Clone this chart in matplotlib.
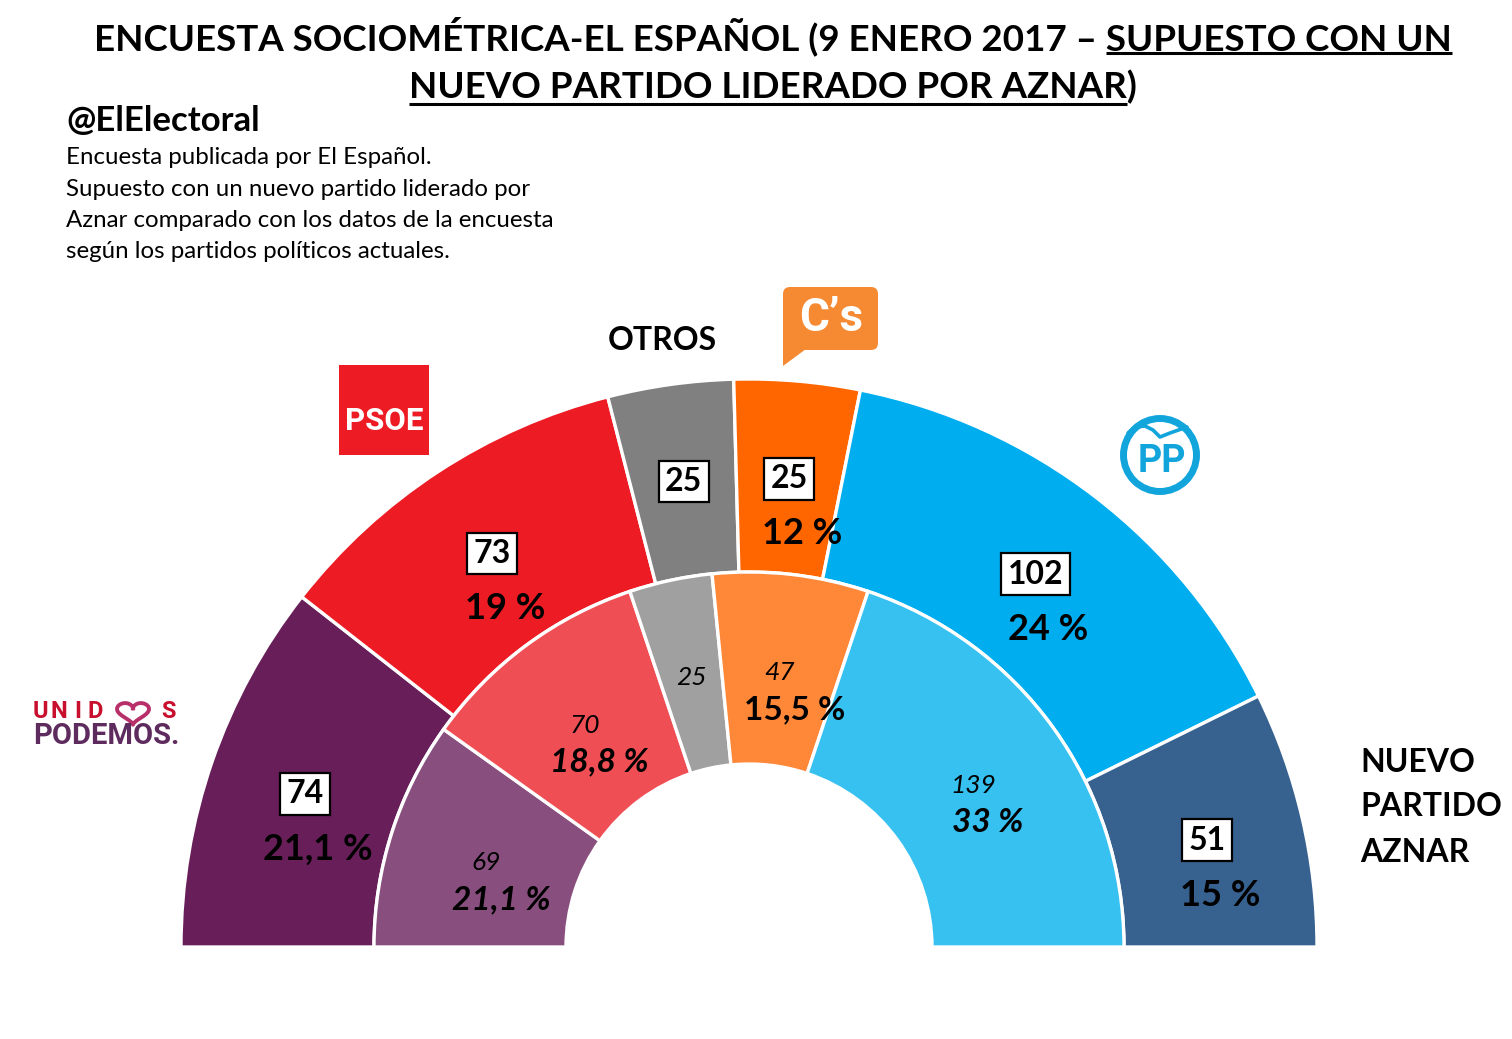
import numpy as np
import matplotlib
matplotlib.use("Agg")
import matplotlib.pyplot as plt
from matplotlib.patches import FancyBboxPatch, Polygon, Circle, Rectangle

plt.rcParams['font.family'] = ['Lato', 'DejaVu Sans']

# --- data (seats out of 350) ---
outer_parties = ["Unidos Podemos", "PSOE", "Otros", "Cs", "PP", "Nuevo partido Aznar"]
outer_seats = [74, 73, 25, 25, 102, 51]
outer_pct = ["21,1 %", "19 %", "", "12 %", "24 %", "15 %"]
outer_colors = ["#681F59", "#ED1C24", "#808080", "#FF6600", "#00AEEF", "#37618F"]

inner_parties = ["Unidos Podemos", "PSOE", "Otros", "Cs", "PP"]
inner_seats = [69, 70, 25, 47, 139]
inner_pct = ["21,1 %", "18,8 %", "", "15,5 %", "33 %"]
inner_pct_italic = [True, True, True, False, True]
inner_colors = ["#884F7E", "#F04E55", "#A0A0A0", "#FF8738", "#37C1F1"]

W, H = 1512, 1039
fig = plt.figure(figsize=(W / 100, H / 100), dpi=100)
ax = fig.add_axes([0, 0, 1, 1])

def Y(y):
    return H - y

cx, cy = 749, Y(947)
R_out, R_mid, R_in = 568, 375, 183

# half donut: add a hidden slice equal to the total for the lower half
w_out, _ = ax.pie(outer_seats + [sum(outer_seats)], colors=outer_colors + ["white"],
                  radius=R_out, center=(cx, cy), startangle=180, counterclock=False,
                  frame=True,
                  wedgeprops=dict(width=R_out - R_mid, edgecolor="white", linewidth=2.4))
w_in, _ = ax.pie(inner_seats + [sum(inner_seats)], colors=inner_colors + ["white"],
                 radius=R_mid, center=(cx, cy), startangle=180, counterclock=False,
                 frame=True,
                 wedgeprops=dict(width=R_mid - R_in, edgecolor="white", linewidth=2.4))
w_out[-1].set_visible(False)
w_in[-1].set_visible(False)

ax.set_xlim(0, W)
ax.set_ylim(0, H)
ax.set_aspect("equal")
ax.axis("off")

def mid_point(w, r):
    a = np.deg2rad((w.theta1 + w.theta2) / 2)
    return cx + r * np.cos(a), cy + r * np.sin(a)

# outer labels: seat box + percentage
for w, s, p in zip(w_out[:-1], outer_seats, outer_pct):
    x, y = mid_point(w, 470)
    ax.text(x, y, str(s), ha="center", va="center", fontsize=23, fontweight="bold",
            bbox=dict(boxstyle="square,pad=0.2", fc="white", ec="black", lw=1.6))
    if p:
        ax.text(x + 13, y - 55, p, ha="center", va="center", fontsize=26,
                fontweight="bold")

# inner labels
for w, s, p, it in zip(w_in[:-1], inner_seats, inner_pct, inner_pct_italic):
    x, y = mid_point(w, 276)
    ax.text(x, y, str(s), ha="center", va="center", fontsize=19, style="italic")
    if p:
        ax.text(x + 15, y - 37, p, ha="center", va="center", fontsize=24,
                fontweight="bold", style="italic" if it else "normal")

# --- title with partial underline ---
title1a = "ENCUESTA SOCIOMÉTRICA-EL ESPAÑOL (9 ENERO 2017 – "
title1b = "SUPUESTO CON UN"
title2a = "NUEVO PARTIDO LIDERADO POR AZNAR"
title2b = ")"
tfs = 26.5
t1 = ax.text(773, Y(36), title1a + title1b, ha="center", va="center", fontsize=tfs, fontweight="bold")
t2 = ax.text(773, Y(87), title2a + title2b, ha="center", va="center", fontsize=tfs, fontweight="bold")
fig.canvas.draw()
rend = fig.canvas.get_renderer()

def underline(t, prefix, part, y_line):
    bb = t.get_window_extent(rend)
    tmp = ax.text(0, 0, prefix, fontsize=tfs, fontweight="bold")
    tmp2 = ax.text(0, 0, prefix + part, fontsize=tfs, fontweight="bold")
    x0 = bb.x0 + (tmp.get_window_extent(rend).width if prefix else 0)
    x1 = bb.x0 + tmp2.get_window_extent(rend).width
    tmp.remove()
    tmp2.remove()
    ax.plot([x0, x1], [y_line, y_line], color="black", lw=2.2, solid_capstyle="butt")

underline(t1, title1a, title1b, Y(53))
underline(t2, "", title2a, Y(104))

# --- header text ---
ax.text(66, Y(121), "@ElElectoral", ha="left", va="center", fontsize=25, fontweight="bold")
desc = ["Encuesta publicada por El Español.",
        "Supuesto con un nuevo partido liderado por",
        "Aznar comparado con los datos de la encuesta",
        "según los partidos políticos actuales."]
for i, line in enumerate(desc):
    ax.text(66, Y(158 + 31.3 * i), line, ha="left", va="center", fontsize=17.3)

# --- party labels / logos ---
ax.text(662, Y(340), "OTROS", ha="center", va="center", fontsize=23, fontweight="bold")
for i, line in enumerate(["NUEVO", "PARTIDO", "AZNAR"]):
    ax.text(1360, Y(762 + 45 * i), line, ha="left", va="center", fontsize=23, fontweight="bold")

# PSOE
ax.add_patch(Rectangle((339, Y(455)), 90, 90, fc="#ED1C24", ec="none"))
ax.text(384, Y(421), "PSOE", ha="center", va="center", fontsize=22.5, fontweight="bold",
        color="white", family=["Roboto", "DejaVu Sans"])

# Ciudadanos
ax.add_patch(FancyBboxPatch((783, Y(350)), 95, 63, boxstyle="round,pad=0,rounding_size=7",
                            fc="#F68A33", ec="none"))
ax.add_patch(Polygon([(783, Y(340)), (783, Y(366)), (806, Y(349)), (790, Y(349))],
                     closed=True, fc="#F68A33", ec="none"))
ax.text(831, Y(318), "C’s", ha="center", va="center", fontsize=33, fontweight="bold",
        color="white", family=["Roboto", "DejaVu Sans"])

# PP
pp_blue = "#12A5DC"
ax.add_patch(Circle((1160, Y(455)), 36.5, fc="none", ec=pp_blue, lw=5))
ax.text(1162, Y(461), "PP", ha="center", va="center", fontsize=27, fontweight="bold",
        color=pp_blue, family=["Roboto", "DejaVu Sans"])
gull_x = [1128, 1135, 1145, 1153, 1160, 1170, 1187]
gull_y = [433, 427, 426, 430, 437, 433, 427]
ax.plot(gull_x, [Y(v) for v in gull_y], color=pp_blue, lw=2.6, solid_capstyle="round")

# Unidos Podemos
up_red = "#C8102E"
for ch, xc in zip("UNID", [40, 59, 78, 95]):
    ax.text(xc, Y(712), ch, ha="center", va="center", fontsize=17, fontweight="bold",
            color=up_red, family=["Roboto", "DejaVu Sans"])
t = np.linspace(0, 2 * np.pi, 200)
hx = 16 * np.sin(t) ** 3
hy = 13 * np.cos(t) - 5 * np.cos(2 * t) - 2 * np.cos(3 * t) - np.cos(4 * t)
ax.plot(133 + hx * 1.0, Y(712) + hy * 0.75, color="#B8306A", lw=2.8)
ax.text(169, Y(712), "S", ha="center", va="center", fontsize=17, fontweight="bold",
        color=up_red, family=["Roboto", "DejaVu Sans"])
ax.text(33, Y(736), "PODEMOS.", ha="left", va="center", fontsize=21, fontweight="bold",
        color="#5E2B5E", family=["Roboto", "DejaVu Sans"])

fig.savefig("out.png", dpi=100, facecolor="white")
